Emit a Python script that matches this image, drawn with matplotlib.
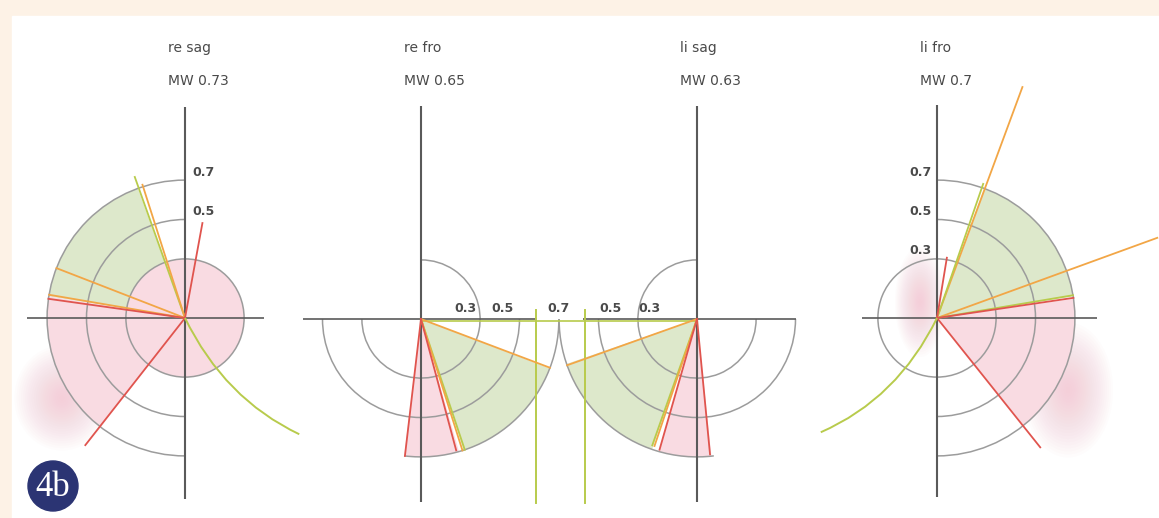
import matplotlib
matplotlib.use("Agg")
import matplotlib.pyplot as plt
import numpy as np
from matplotlib.patches import Wedge, Arc, Circle, Ellipse, Rectangle
from matplotlib.path import Path
from matplotlib.patches import PathPatch

# ---- data (angles in degrees, radii in the chart's own units) ----
titles = ["re sag", "re fro", "li sag", "li fro"]
mw_values = [0.73, 0.65, 0.63, 0.7]

green_sectors = [(110, 171), (-72, -21), (199, 251), (9, 70)]
pink_sectors = [(171, 232), (-97, -74), (254, 276), (-51, 8)]
sector_r = 0.7

# ring arcs: (radius, theta1, theta2)
rings = [
    [(0.3, 0, 360), (0.5, 90, 270), (0.7, 90, 270)],
    [(0.3, -180, 90), (0.5, 180, 360), (0.7, -97, 0)],
    [(0.3, 90, 360), (0.5, 180, 360), (0.7, 180, 277)],
    [(0.3, 0, 360), (0.5, -90, 90), (0.7, -90, 90)],
]

# rays: (angle, length, colour key)
rays = [
    [(109.6, 0.76, "yg"), (107.7, 0.71, "or"), (158.8, 0.70, "or"),
     (170.3, 0.70, "or"), (172.0, 0.70, "red"), (79.6, 0.49, "red"),
     (231.9, 0.82, "red")],
    [(-20.7, 0.70, "or"), (-71.5, 0.70, "yg"), (-72.5, 0.70, "or"),
     (-75.0, 0.69, "red"), (-96.7, 0.70, "red")],
    [(199.6, 0.70, "or"), (250.5, 0.68, "yg"), (251.5, 0.68, "or"),
     (254.0, 0.69, "red"), (275.5, 0.69, "red")],
    [(69.7, 1.25, "or"), (71.0, 0.72, "yg"), (20.0, 1.19, "or"),
     (9.5, 0.70, "yg"), (8.4, 0.70, "red"), (80.7, 0.31, "red"),
     (-51.4, 0.84, "red")],
]

# curved trace (end point and bezier control point, units), panels 1 and 4
curves = {0: ((0.58, -0.59), (0.20, -0.41)), 3: ((-0.59, -0.58), (-0.20, -0.41))}

# ring labels per panel
ring_labels = {0: ["0.7", "0.5"], 3: ["0.7", "0.5", "0.3"]}
row_labels = ["0.3", "0.5", "0.7", "0.5", "0.3"]
row_label_x = [465, 503, 559, 611, 649]

# ---- layout ----
W, H = 1159, 518
scale = 197.0  # px per unit
centers = [(185, 200), (421, 199), (697, 199), (937, 200)]
# axis extents (units): up, down, left, right
axis_ext = [(1.07, 0.92, 0.80, 0.40), (1.08, 0.93, 0.60, 0.59),
            (1.08, 0.93, 0.58, 0.50), (1.08, 0.91, 0.38, 0.81)]

colors = {"or": "#f2a646", "yg": "#b8cb4c", "red": "#e0544e"}
green_fill = "#dde8cb"
pink_fill = "#f9dbe2"
ring_col = "#9c9c9c"
axis_col = "#5a5a5a"
text_col = "#4a4a4a"

fig = plt.figure(figsize=(W / 100, H / 100), dpi=100)
fig.patch.set_facecolor("#fdf2e6")
ax = fig.add_axes([0, 0, 1, 1])
ax.set_xlim(0, W)
ax.set_ylim(0, H)
ax.axis("off")
ax.add_patch(Rectangle((12, 0), W - 12, H - 16, color="white", zorder=0))


def soft_blob(x, y, w, h, color, n=22):
    for k in range(n):
        f = 1 - k / n
        ax.add_patch(Ellipse((x, y), w * f, h * f, color=color, alpha=0.045,
                             lw=0, zorder=1))


# soft pink smudges (under the sectors)
soft_blob(62, H - 398, 95, 105, "#f4bccb")
soft_blob(1068, H - 390, 90, 135, "#f4bccb")
soft_blob(920, H - 302, 50, 110, "#f4bccb")

for i, (cx, cy) in enumerate(centers):
    R = sector_r * scale
    g1, g2 = green_sectors[i]
    p1, p2 = pink_sectors[i]
    ax.add_patch(Wedge((cx, cy), R, g1, g2, color=green_fill, lw=0, zorder=1))
    ax.add_patch(Wedge((cx, cy), R, p1, p2, color=pink_fill, lw=0, zorder=1))
    if i == 0:
        ax.add_patch(Circle((cx, cy), 0.3 * scale, color=pink_fill, lw=0, zorder=1))

    for r, t1, t2 in rings[i]:
        ax.add_patch(Arc((cx, cy), 2 * r * scale, 2 * r * scale, theta1=t1,
                         theta2=t2, color=ring_col, lw=1.1, zorder=2))

    up, down, left, right = axis_ext[i]
    ax.plot([cx, cx], [cy - down * scale, cy + up * scale], color=axis_col,
            lw=1.5, zorder=3, solid_capstyle="butt")
    ax.plot([cx - left * scale, cx + right * scale], [cy, cy], color=axis_col,
            lw=1.2, zorder=3, solid_capstyle="butt")

    for ang, ln, ck in rays[i]:
        a = np.deg2rad(ang)
        ax.plot([cx, cx + ln * scale * np.cos(a)], [cy, cy + ln * scale * np.sin(a)],
                color=colors[ck], lw=1.3, zorder=4)

    if i in curves:
        (ex, ey), (qx, qy) = curves[i]
        verts = [(cx, cy), (cx + qx * scale, cy + qy * scale), (cx + ex * scale, cy + ey * scale)]
        ax.add_patch(PathPatch(Path(verts, [Path.MOVETO, Path.CURVE3, Path.CURVE3]),
                               fc="none", ec=colors["yg"], lw=1.4, zorder=4))

    if i in ring_labels:
        for lab in ring_labels[i]:
            y = cy + float(lab) * scale + 8
            if i == 0:
                ax.text(cx + 7, y, lab, fontsize=9, color=text_col, fontweight="bold",
                        ha="left", va="center", zorder=5)
            else:
                ax.text(cx - 5, y, lab, fontsize=9, color=text_col, fontweight="bold",
                        ha="right", va="center", zorder=5)

    ax.text(cx - 17, H - 48, titles[i], fontsize=10, color=text_col, ha="left",
            va="center", zorder=5)
    ax.text(cx - 17, H - 81, f"MW {mw_values[i]}", fontsize=10, color=text_col,
            ha="left", va="center", zorder=5)

# labels along the shared horizontal of the middle panels
for lab, x in zip(row_labels, row_label_x):
    ax.text(x, H - 308, lab, fontsize=9, color=text_col, fontweight="bold",
            ha="center", va="center", zorder=5)

# green connector lines between the middle panels
(c2x, c2y), (c3x, c3y) = centers[1], centers[2]
ax.plot([c2x, c3x], [c2y - 2, c3y - 2], color=colors["yg"], lw=1.2, zorder=3)
for x in (c2x + 0.585 * scale, c3x - 0.57 * scale):
    ax.plot([x, x], [H - 503, H - 310], color=colors["yg"], lw=1.4, zorder=3)

# panel badge
ax.add_patch(Circle((53, H - 486), 25, color="#2b3473", zorder=6))
ax.text(53, H - 487, "4b", fontsize=25, color="white", family="Liberation Serif",
        ha="center", va="center", zorder=7)

fig.savefig("out.png", dpi=100, facecolor=fig.get_facecolor())
